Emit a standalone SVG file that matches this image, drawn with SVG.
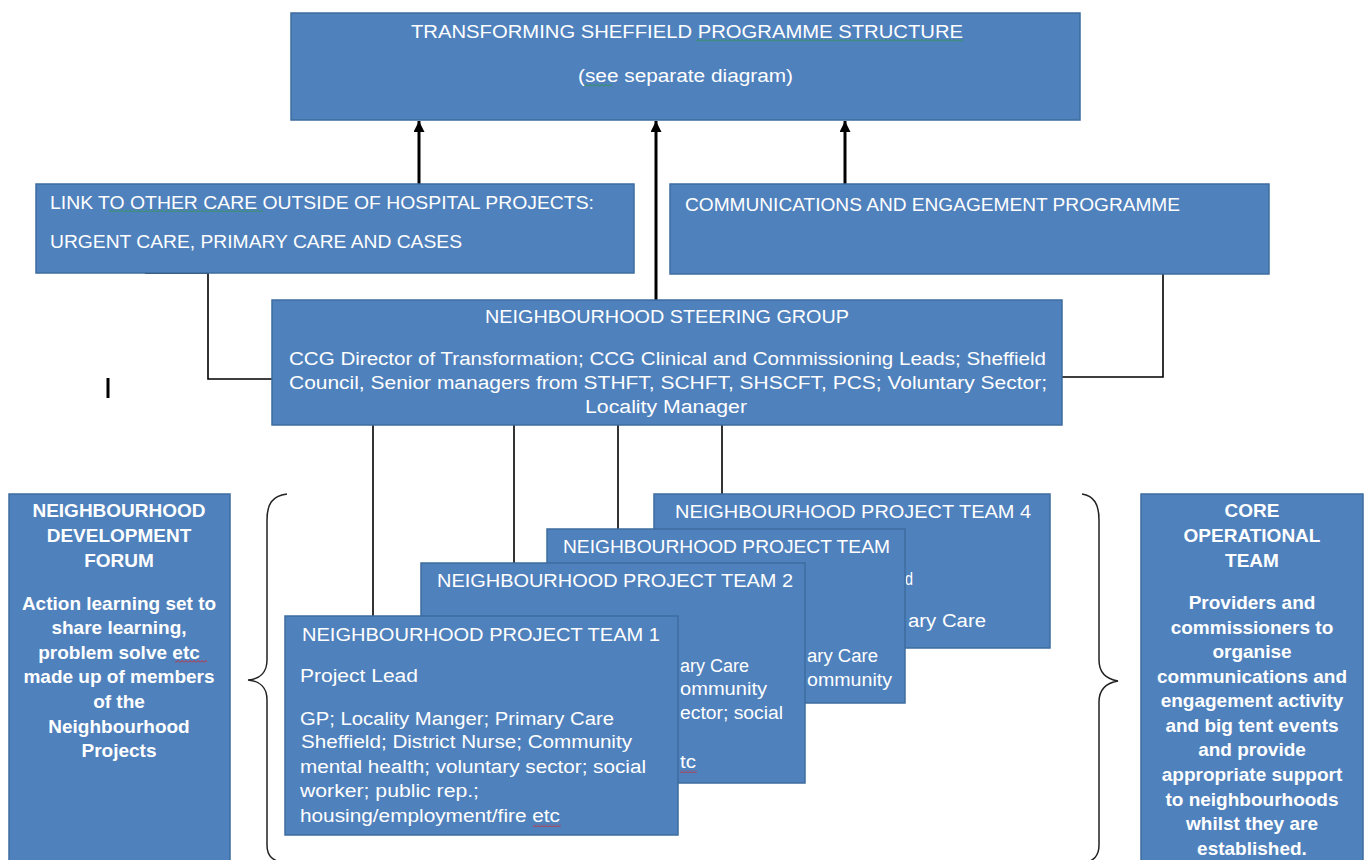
<svg xmlns="http://www.w3.org/2000/svg" width="1367" height="860" viewBox="0 0 1367 860" xml:space="preserve">
<style>
.box{fill:#4F81BD;stroke:#3E6C9F;stroke-width:1.5}
.t{font-family:"Liberation Sans",Arial,sans-serif;font-size:18px;fill:#FFFFFF}
.tt{font-family:"Liberation Sans",Arial,sans-serif;font-size:18.5px;fill:#FFFFFF}
.b{font-family:"Liberation Sans",Arial,sans-serif;font-size:19px;font-weight:bold;fill:#FFFFFF;text-anchor:middle}
.c{text-anchor:middle}
.thick{stroke:#000;stroke-width:3;fill:none}
.thin{stroke:#000;stroke-width:1.6;fill:none}
.brace{stroke:#222;stroke-width:1.5;fill:none}
</style>
<defs>
<marker id="arr" viewBox="0 0 10 10" refX="10" refY="5" markerWidth="16" markerHeight="11" markerUnits="userSpaceOnUse" orient="auto"><path d="M0,0 L10,5 L0,10 Z" fill="#000"/></marker>
<pattern id="wg" width="4" height="3" patternUnits="userSpaceOnUse"><path d="M0,2.5 L2,0.5 L4,2.5" stroke="#2E9A3A" stroke-width="0.9" fill="none"/></pattern>
<pattern id="wr" width="4" height="3" patternUnits="userSpaceOnUse"><path d="M0,2.5 L2,0.5 L4,2.5" stroke="#E02020" stroke-width="0.9" fill="none"/></pattern>
</defs>

<g id="connectors">
<line class="thick" x1="419" y1="184" x2="419" y2="121" marker-end="url(#arr)"/>
<line class="thick" x1="656" y1="300" x2="656" y2="121" marker-end="url(#arr)"/>
<line class="thick" x1="845" y1="184" x2="845" y2="121" marker-end="url(#arr)"/>
<polyline class="thin" points="145,273 208,273 208,379 272,379"/>
<polyline class="thin" points="1163,274 1163,377 1062,377"/>
<line class="thin" x1="373" y1="425" x2="373" y2="616"/>
<line class="thin" x1="514" y1="425" x2="514" y2="563"/>
<line class="thin" x1="618" y1="425" x2="618" y2="529"/>
<line class="thin" x1="722" y1="425" x2="722" y2="494"/>
</g>

<g id="top">
<rect class="box" x="291" y="13" width="789" height="107"/>
<text class="t" x="411" y="38" textLength="552" lengthAdjust="spacingAndGlyphs">TRANSFORMING SHEFFIELD PROGRAMME  STRUCTURE</text>
<text class="t" x="578" y="82" textLength="215" lengthAdjust="spacingAndGlyphs">(see separate diagram)</text>
<rect x="696" y="39" width="267" height="3" fill="url(#wg)"/>
<rect x="584" y="84" width="28" height="3" fill="url(#wg)"/>
</g>

<g id="link">
<rect class="box" x="36" y="184" width="598" height="89"/>
<text class="t" x="50" y="209" textLength="544" lengthAdjust="spacingAndGlyphs">LINK TO OTHER  CARE OUTSIDE OF HOSPITAL PROJECTS:</text>
<text class="t" x="50" y="248" textLength="412" lengthAdjust="spacingAndGlyphs">URGENT CARE, PRIMARY CARE AND CASES</text>
<rect x="109" y="209" width="154" height="3" fill="url(#wg)"/>
</g>

<g id="comms">
<rect class="box" x="670" y="184" width="599" height="90"/>
<text class="t" x="685" y="211" textLength="495" lengthAdjust="spacingAndGlyphs">COMMUNICATIONS AND ENGAGEMENT PROGRAMME</text>
</g>

<g id="steering">
<rect class="box" x="272" y="300" width="790" height="125"/>
<text class="t c" x="667" y="323" textLength="364" lengthAdjust="spacingAndGlyphs">NEIGHBOURHOOD  STEERING GROUP</text>
<text class="t" x="289" y="365" textLength="757" lengthAdjust="spacingAndGlyphs">CCG Director of Transformation; CCG Clinical and Commissioning  Leads;  Sheffield</text>
<text class="t" x="289" y="389" textLength="758" lengthAdjust="spacingAndGlyphs">Council, Senior managers from  STHFT,  SCHFT,  SHSCFT,  PCS; Voluntary  Sector;</text>
<text class="t c" x="666" y="413" textLength="162" lengthAdjust="spacingAndGlyphs">Locality Manager</text>
</g>

<rect x="106.5" y="378" width="3" height="20" fill="#000"/>

<g id="forum">
<rect class="box" x="9" y="494" width="221" height="380"/>
<text class="b" x="119" y="517">NEIGHBOURHOOD</text>
<text class="b" x="119" y="542">DEVELOPMENT</text>
<text class="b" x="119" y="567">FORUM</text>
<text class="b" x="119" y="610">Action learning set to</text>
<text class="b" x="119" y="634">share learning,</text>
<text class="b" x="119" y="659">problem solve etc</text>
<text class="b" x="119" y="683">made up of members</text>
<text class="b" x="119" y="708">of the</text>
<text class="b" x="119" y="733">Neighbourhood</text>
<text class="b" x="119" y="757">Projects</text>
<rect x="175" y="660" width="32" height="3" fill="url(#wr)"/>
</g>

<g id="core">
<rect class="box" x="1141" y="494" width="222" height="380"/>
<text class="b" x="1252" y="517">CORE</text>
<text class="b" x="1252" y="542">OPERATIONAL</text>
<text class="b" x="1252" y="567">TEAM</text>
<text class="b" x="1252" y="609">Providers and</text>
<text class="b" x="1252" y="634">commissioners to</text>
<text class="b" x="1252" y="658">organise</text>
<text class="b" x="1252" y="683">communications and</text>
<text class="b" x="1252" y="707">engagement activity</text>
<text class="b" x="1252" y="732">and big tent events</text>
<text class="b" x="1252" y="756">and provide</text>
<text class="b" x="1252" y="781">appropriate support</text>
<text class="b" x="1252" y="806">to neighbourhoods</text>
<text class="b" x="1252" y="830">whilst they are</text>
<text class="b" x="1252" y="855">established.</text>
</g>

<g id="braces">
<path class="brace" d="M287,494 C272,496 267,504 267,520 L267,660 C267,672 260,679 248,680 C260,681 267,688 267,700 L267,845 C267,856 272,861 287,864"/>
<path class="brace" d="M1082,494 C1094,496 1099,504 1099,520 L1099,660 C1099,672 1106,679 1118,681 C1106,683 1099,690 1099,702 L1099,845 C1099,856 1094,861 1082,864"/>
</g>

<g id="team4">
<rect class="box" x="654" y="494" width="396" height="154"/>
<text class="tt" x="675" y="518" textLength="356" lengthAdjust="spacingAndGlyphs">NEIGHBOURHOOD PROJECT TEAM 4</text>
<text class="t" x="905" y="585" textLength="8" lengthAdjust="spacingAndGlyphs">d</text>
<text class="t" x="908" y="627" textLength="78" lengthAdjust="spacingAndGlyphs">ary Care</text>
</g>

<g id="team3">
<rect class="box" x="547" y="529" width="358" height="174"/>
<text class="tt" x="563" y="553" textLength="327" lengthAdjust="spacingAndGlyphs">NEIGHBOURHOOD PROJECT TEAM</text>
<text class="t" x="807" y="662" textLength="71" lengthAdjust="spacingAndGlyphs">ary Care</text>
<text class="t" x="807" y="686" textLength="85" lengthAdjust="spacingAndGlyphs">ommunity</text>
</g>

<g id="team2">
<rect class="box" x="421" y="563" width="384" height="220"/>
<text class="tt" x="437" y="587" textLength="356" lengthAdjust="spacingAndGlyphs">NEIGHBOURHOOD PROJECT TEAM 2</text>
<text class="t" x="680" y="672" textLength="69" lengthAdjust="spacingAndGlyphs">ary Care</text>
<text class="t" x="680" y="695" textLength="87" lengthAdjust="spacingAndGlyphs">ommunity</text>
<text class="t" x="680" y="719" textLength="103" lengthAdjust="spacingAndGlyphs">ector; social</text>
<text class="t" x="680" y="768" textLength="16" lengthAdjust="spacingAndGlyphs">tc</text>
<rect x="680" y="770" width="17" height="3" fill="url(#wr)"/>
</g>

<g id="team1">
<rect class="box" x="285" y="616" width="393" height="219"/>
<text class="tt" x="302" y="641" textLength="358" lengthAdjust="spacingAndGlyphs">NEIGHBOURHOOD PROJECT TEAM 1</text>
<text class="t" x="300" y="682" textLength="118" lengthAdjust="spacingAndGlyphs">Project Lead</text>
<text class="t" x="300" y="725" textLength="314" lengthAdjust="spacingAndGlyphs">GP; Locality Manger; Primary Care</text>
<text class="t" x="301" y="748" textLength="331" lengthAdjust="spacingAndGlyphs">Sheffield; District Nurse; Community</text>
<text class="t" x="300" y="773" textLength="346" lengthAdjust="spacingAndGlyphs">mental health; voluntary sector; social</text>
<text class="t" x="300" y="797" textLength="179" lengthAdjust="spacingAndGlyphs">worker; public rep.;</text>
<text class="t" x="300" y="822" textLength="260" lengthAdjust="spacingAndGlyphs">housing/employment/fire etc</text>
<rect x="533" y="824" width="28" height="3" fill="url(#wr)"/>
</g>
</svg>
